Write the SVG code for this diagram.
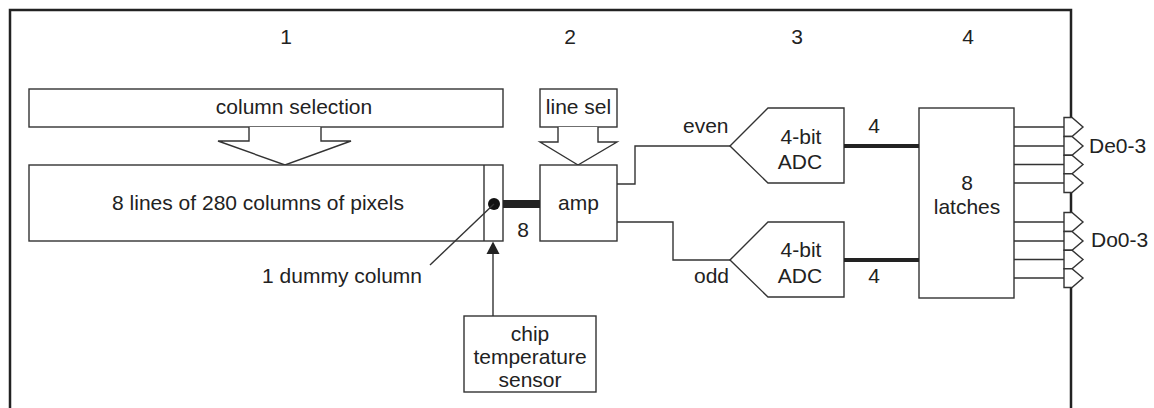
<svg xmlns="http://www.w3.org/2000/svg" width="1154" height="408" viewBox="0 0 1154 408">
<defs>
<style>
text{font-family:"Liberation Sans",Arial,sans-serif;font-size:21px;fill:#222}
.c{text-anchor:middle}
.box{fill:#fff;stroke:#333;stroke-width:1.4}
.wire{fill:none;stroke:#333;stroke-width:1.4}
.bus{fill:none;stroke:#222}
.frame{fill:none;stroke:#222;stroke-width:2.5}
.port{fill:#fff;stroke:#333;stroke-width:1.4;stroke-linejoin:miter}
.head{fill:#222;stroke:none}
</style>
</defs>
<rect width="1154" height="408" fill="#fff"/>
<g id="frame">
<path class="frame" d="M10,408 V10 H1071 V117.5 M1071,192.5 V212.5 M1071,287.5 V408"/>
<text class="c" x="286" y="44">1</text>
<text class="c" x="570" y="44">2</text>
<text class="c" x="797" y="44">3</text>
<text class="c" x="968" y="44">4</text>
</g>
<g id="column-selection">
<rect class="box" x="29" y="89" width="474" height="38"/>
<text class="c" x="294" y="114">column selection</text>
<path class="box" d="M249,127 V141 H218 L285,165 L351,141 H321 V127"/>
</g>
<g id="pixel-array">
<rect class="box" x="29" y="165" width="474" height="76"/>
<line class="wire" x1="484" y1="165" x2="484" y2="241"/>
<text class="c" x="258" y="210">8 lines of 280 columns of pixels</text>
<circle cx="494" cy="204" r="6" fill="#111"/>
</g>
<g id="dummy-label">
<text x="422" y="283" text-anchor="end">1 dummy column</text>
</g>
<g id="line-sel">
<rect class="box" x="540" y="89" width="77" height="38"/>
<text class="c" x="578.5" y="114">line sel</text>
<path class="box" d="M558,127 V142 H540 L578,165 L617,142 H598 V127"/>
</g>
<g id="amp">
<rect class="box" x="540" y="165" width="77" height="76"/>
<text class="c" x="578.5" y="210">amp</text>
</g>
<g id="sensor">
<rect class="box" x="464" y="316" width="132" height="76"/>
<text class="c" x="530" y="341">chip</text>
<text class="c" x="530" y="364">temperature</text>
<text class="c" x="530" y="387">sensor</text>
</g>
<g id="adc-even">
<path class="box" d="M730,146 L768,108 H844 V183 H768 Z"/>
<text class="c" x="801" y="144">4-bit</text>
<text class="c" x="800" y="169">ADC</text>
</g>
<g id="adc-odd">
<path class="box" d="M730,260 L768,222 H844 V297 H768 Z"/>
<text class="c" x="801" y="257">4-bit</text>
<text class="c" x="800" y="283">ADC</text>
</g>
<g id="latches">
<rect class="box" x="919" y="108" width="95" height="190"/>
<text class="c" x="967" y="190">8</text>
<text class="c" x="967" y="214">latches</text>
</g>
<g id="connectors">
<line class="bus" x1="503" y1="204" x2="540" y2="204" stroke-width="8"/>
<text class="c" x="523" y="237">8</text>
<line class="wire" x1="430" y1="265" x2="494" y2="204" stroke-width="1.2"/>
<line class="wire" x1="493" y1="316" x2="493" y2="252"/>
<path class="head" d="M486.5,254 L493,241.5 L499.5,254 Z"/>
<path class="wire" d="M617,184 H635 V146 H730"/>
<path class="wire" d="M617,222 H673 V260 H730"/>
<text x="683" y="133">even</text>
<text x="729" y="283" text-anchor="end">odd</text>
<line class="bus" x1="844" y1="146" x2="919" y2="146" stroke-width="4"/>
<line class="bus" x1="844" y1="260" x2="919" y2="260" stroke-width="4"/>
<text class="c" x="874" y="133">4</text>
<text class="c" x="874" y="283">4</text>
<path class="wire" d="M1014,127 H1064 M1014,146 H1064 M1014,164.5 H1064 M1014,183 H1064"/>
<path class="wire" d="M1014,222 H1064 M1014,241 H1064 M1014,259.5 H1064 M1014,278 H1064"/>
</g>
<g id="ports-even">
<path class="port" d="M1064,117.5 H1072 L1083,127 L1072,136.5 H1064 Z"/>
<path class="port" d="M1064,136.5 H1072 L1083,146 L1072,155.3 H1064 Z"/>
<path class="port" d="M1064,155.3 H1072 L1083,164.5 L1072,173.8 H1064 Z"/>
<path class="port" d="M1064,173.8 H1072 L1083,183 L1072,192.5 H1064 Z"/>
<text x="1089" y="153">De0-3</text>
</g>
<g id="ports-odd">
<path class="port" d="M1064,212.5 H1072 L1083,222 L1072,231.5 H1064 Z"/>
<path class="port" d="M1064,231.5 H1072 L1083,241 L1072,250.3 H1064 Z"/>
<path class="port" d="M1064,250.3 H1072 L1083,259.5 L1072,268.8 H1064 Z"/>
<path class="port" d="M1064,268.8 H1072 L1083,278 L1072,287.5 H1064 Z"/>
<text x="1091" y="247">Do0-3</text>
</g>
</svg>
